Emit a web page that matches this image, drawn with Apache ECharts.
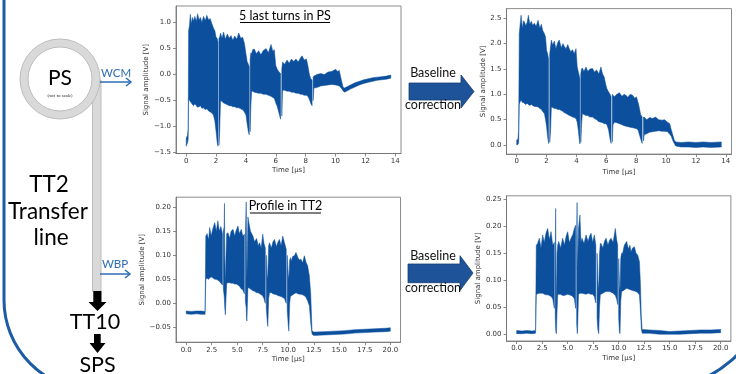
<!DOCTYPE html>
<html><head><meta charset="utf-8">
<script src="https://cdn.jsdelivr.net/npm/echarts@6/dist/echarts.min.js"></script>
<style>html,body{margin:0;padding:0;background:#fff}#c{width:736px;height:374px}</style>
</head><body><div id="c"></div><script>
// ---- data: [time µs, upper envelope V, lower envelope V]; null = gap between turns ----
const psRows = [
[0,-1.22,-1.38],[0.08,-1.18,-1.32],[0.13,-1.05,-1.25],[0.16,0.84,-0.45],[0.22,0.95,-0.50],[0.27,1.16,-0.52],
[0.35,0.98,-0.55],[0.42,1.10,-0.58],[0.49,1.03,-0.60],[0.58,1.12,-0.56],[0.68,1.02,-0.60],[0.76,1.17,-0.63],
[0.86,1.05,-0.62],[0.95,1.10,-0.60],[1.05,1.00,-0.65],[1.15,1.12,-0.64],[1.28,1.04,-0.68],[1.38,1.14,-0.66],
[1.5,1.05,-0.70],[1.6,1.08,-0.72],[1.72,0.98,-0.74],[1.82,0.90,-0.78],[1.92,0.84,-0.90],[2.0,0.72,-1.10],
[2.07,0.70,-1.30],[2.13,0.62,-1.38],null,
[2.19,0.70,-1.36],[2.24,0.72,-1.10],[2.3,0.80,-0.50],[2.4,0.70,-0.52],[2.5,0.82,-0.55],[2.62,0.68,-0.56],
[2.75,0.78,-0.58],[2.88,0.70,-0.60],[3.0,0.75,-0.60],[3.12,0.66,-0.62],[3.25,0.74,-0.62],[3.38,0.68,-0.64],
[3.52,0.80,-0.64],[3.65,0.70,-0.66],[3.78,0.72,-0.68],[3.9,0.60,-0.72],[4.0,0.40,-0.78],[4.08,0.25,-0.95],
[4.16,0.20,-1.10],[4.22,0.15,-1.16],null,
[4.28,0.30,-1.10],[4.33,0.42,-0.60],[4.38,0.40,-0.32],[4.45,0.48,-0.32],[4.56,0.49,-0.34],[4.7,0.40,-0.35],
[4.85,0.46,-0.36],[5.0,0.38,-0.36],[5.15,0.46,-0.38],[5.35,0.50,-0.38],[5.5,0.42,-0.40],[5.68,0.58,-0.42],
[5.8,0.45,-0.44],[5.9,0.48,-0.46],[6.0,0.17,-0.55],[6.1,0.10,-0.62],[6.22,0.05,-0.75],[6.32,0.02,-0.86],null,
[6.4,0.10,-0.80],[6.45,0.24,-0.30],[6.6,0.20,-0.30],[6.75,0.28,-0.32],[6.9,0.22,-0.32],[7.05,0.30,-0.34],
[7.2,0.25,-0.34],[7.35,0.30,-0.36],[7.5,0.24,-0.36],[7.65,0.32,-0.38],[7.76,0.36,-0.38],[7.9,0.28,-0.40],
[8.05,0.30,-0.40],[8.15,0.17,-0.42],[8.25,0.00,-0.48],[8.35,-0.09,-0.56],[8.43,-0.10,-0.60],null,
[8.5,-0.05,-0.50],[8.55,-0.03,-0.26],[8.75,0.00,-0.25],[9.0,0.02,-0.22],[9.25,0.00,-0.21],[9.5,0.05,-0.20],
[9.75,0.06,-0.19],[10.0,0.10,-0.20],[10.15,0.06,-0.21],[10.25,0.08,-0.22],[10.38,-0.09,-0.26],[10.5,-0.24,-0.31],
[10.6,-0.26,-0.34],[10.8,-0.23,-0.31],[11.0,-0.20,-0.28],[11.3,-0.16,-0.24],[11.6,-0.13,-0.20],[11.9,-0.10,-0.17],
[12.2,-0.08,-0.15],[12.5,-0.06,-0.13],[12.8,-0.05,-0.11],[13.1,-0.04,-0.10],[13.4,-0.03,-0.09],[13.7,-0.01,-0.07]
];
const psCorrRows = [
[0,0.10,0.00],[0.08,0.12,0.01],[0.13,0.30,0.05],[0.17,2.20,0.80],[0.22,2.35,0.85],[0.29,2.56,0.88],[0.38,2.30,0.84],
[0.45,2.45,0.84],[0.51,2.43,0.82],[0.6,2.35,0.80],[0.7,2.42,0.82],[0.78,2.56,0.80],[0.88,2.38,0.78],[0.98,2.44,0.80],
[1.07,2.36,0.78],[1.18,2.40,0.76],[1.3,2.34,0.76],[1.43,2.46,0.75],[1.55,2.30,0.72],[1.65,2.38,0.70],[1.74,2.26,0.66],
[1.85,2.20,0.62],[1.93,2.13,0.50],[2.0,1.87,0.36],[2.07,1.80,0.15],[2.13,1.70,0.03],null,
[2.21,1.80,0.05],[2.27,1.95,0.30],[2.32,2.07,0.75],[2.41,1.97,0.74],[2.52,2.05,0.72],[2.62,1.90,0.72],[2.75,2.02,0.70],
[2.85,2.07,0.70],[2.98,1.92,0.68],[3.1,2.00,0.66],[3.17,1.95,0.64],[3.3,1.90,0.62],[3.42,1.98,0.60],[3.52,1.90,0.58],
[3.62,1.84,0.57],[3.74,1.88,0.55],[3.85,1.80,0.54],[3.97,1.90,0.52],[4.05,1.55,0.45],[4.12,1.45,0.30],[4.2,1.35,0.08],
[4.23,1.30,0.02],null,
[4.29,1.40,0.05],[4.34,1.50,0.40],[4.4,1.52,0.62],[4.5,1.45,0.60],[4.64,1.54,0.58],[4.76,1.45,0.58],[4.9,1.50,0.55],
[5.08,1.51,0.55],[5.2,1.44,0.52],[5.35,1.48,0.50],[5.5,1.40,0.46],[5.64,1.54,0.45],[5.75,1.40,0.44],[5.86,1.34,0.42],
[5.96,1.20,0.42],[6.04,1.11,0.40],[6.15,1.05,0.30],[6.25,1.00,0.12],[6.32,0.95,0.03],null,
[6.4,1.00,0.06],[6.45,0.98,0.40],[6.55,0.95,0.45],[6.7,1.00,0.44],[6.88,1.03,0.42],[7.05,0.96,0.40],[7.2,1.00,0.38],
[7.31,0.98,0.37],[7.45,0.94,0.36],[7.6,1.00,0.35],[7.76,0.98,0.34],[7.9,0.92,0.33],[8.02,0.95,0.32],[8.12,0.85,0.30],
[8.2,0.75,0.22],[8.3,0.60,0.12],[8.4,0.55,0.03],null,
[8.49,0.55,0.08],[8.54,0.55,0.20],[8.7,0.50,0.22],[8.9,0.54,0.25],[9.1,0.52,0.26],[9.3,0.55,0.27],[9.5,0.50,0.28],
[9.74,0.49,0.27],[9.9,0.50,0.27],[10.1,0.45,0.26],[10.25,0.42,0.21],[10.35,0.30,0.17],[10.45,0.20,0.09],[10.55,0.10,0.03],
[10.65,0.06,-0.02],[11.0,0.05,-0.04],[11.5,0.06,-0.04],[12.0,0.05,-0.05],[12.5,0.06,-0.04],[13.0,0.05,-0.05],[13.7,0.06,-0.04]
];
const tt2Rows = [
[0,-0.016,-0.022],[0.5,-0.017,-0.023],[1.0,-0.016,-0.022],[1.5,-0.016,-0.023],[1.85,-0.017,-0.023],
[1.92,0.140,0.050],[2.05,0.145,0.052],[2.2,0.132,0.050],[2.3,0.158,0.053],[2.45,0.140,0.055],[2.6,0.155,0.053],
[2.8,0.168,0.050],[2.95,0.150,0.050],[3.1,0.172,0.048],[3.25,0.150,0.046],[3.4,0.160,0.042],[3.55,0.145,0.038],null,
[3.64,0.150,0.030],[3.72,0.160,0.015],[3.75,0.208,0.005],[3.78,0.100,-0.010],[3.84,0.040,-0.024],[3.9,0.100,0.010],
[3.97,0.145,0.042],[4.1,0.147,0.043],[4.25,0.135,0.043],[4.4,0.150,0.042],[4.59,0.154,0.042],[4.75,0.140,0.040],
[4.9,0.152,0.040],[5.07,0.161,0.038],[5.2,0.145,0.036],[5.4,0.154,0.030],[5.55,0.140,0.028],[5.7,0.144,0.020],null,
[5.8,0.140,0.005],[5.88,0.211,-0.010],[5.91,0.120,-0.030],[5.95,0.050,-0.037],[6.0,0.120,0.000],[6.05,0.180,0.033],
[6.15,0.167,0.032],[6.3,0.150,0.030],[6.54,0.140,0.026],[6.7,0.128,0.025],[6.9,0.135,0.022],[7.05,0.120,0.022],
[7.19,0.126,0.020],[7.35,0.115,0.018],[7.5,0.144,0.015],[7.62,0.125,0.010],[7.75,0.115,0.000],null,
[7.85,0.100,-0.010],[7.95,0.050,-0.040],[8.0,0.060,-0.048],[8.08,0.120,0.010],[8.16,0.126,0.022],[8.35,0.115,0.022],
[8.5,0.128,0.020],[8.65,0.133,0.019],[8.85,0.118,0.018],[9.0,0.128,0.016],[9.14,0.133,0.015],[9.3,0.120,0.014],
[9.46,0.140,0.012],[9.63,0.126,0.010],[9.8,0.113,0.000],null,
[9.9,0.100,-0.015],[10.0,0.060,-0.045],[10.06,0.050,-0.058],[10.14,0.090,0.000],[10.22,0.095,0.015],[10.28,0.088,0.015],
[10.45,0.098,0.018],[10.6,0.099,0.020],[10.76,0.106,0.022],[10.95,0.095,0.020],[11.1,0.090,0.019],[11.25,0.092,0.019],
[11.4,0.084,0.018],[11.58,0.099,0.016],[11.75,0.085,0.012],[11.9,0.078,0.005],[12.07,0.057,-0.005],[12.2,0.020,-0.040],
[12.33,-0.057,-0.064],[12.5,-0.060,-0.067],[13.5,-0.059,-0.066],[14.5,-0.058,-0.065],[15.5,-0.057,-0.064],
[16.5,-0.055,-0.062],[17.5,-0.054,-0.061],[18.5,-0.053,-0.060],[19.5,-0.052,-0.059],[20.0,-0.051,-0.058]
];
const tt2CorrRows = [
[0,0.007,0.001],[0.5,0.006,0.001],[1.0,0.007,0.002],[1.5,0.006,0.001],[1.85,0.007,0.002],
[1.92,0.165,0.073],[2.05,0.168,0.075],[2.22,0.178,0.076],[2.38,0.160,0.076],[2.55,0.184,0.076],[2.7,0.170,0.074],
[2.88,0.188,0.073],[3.04,0.196,0.073],[3.2,0.175,0.072],[3.37,0.190,0.070],[3.53,0.165,0.066],[3.69,0.170,0.048],null,
[3.78,0.150,0.030],[3.82,0.233,0.010],[3.85,0.120,0.003],[3.89,0.050,0.001],[3.95,0.150,0.040],[4.02,0.165,0.073],
[4.12,0.172,0.074],[4.3,0.160,0.074],[4.51,0.178,0.072],[4.68,0.165,0.072],[4.85,0.182,0.073],[5.0,0.190,0.074],
[5.16,0.170,0.073],[5.33,0.178,0.072],[5.5,0.185,0.070],[5.65,0.196,0.066],[5.78,0.202,0.048],null,
[5.88,0.180,0.020],[5.92,0.244,0.005],[5.95,0.120,0.001],[6.0,0.150,0.030],[6.06,0.196,0.074],[6.2,0.221,0.076],
[6.3,0.170,0.076],[6.4,0.178,0.076],[6.6,0.168,0.075],[6.8,0.184,0.074],[7.0,0.172,0.076],[7.15,0.182,0.075],
[7.29,0.187,0.074],[7.45,0.170,0.074],[7.61,0.184,0.070],[7.76,0.165,0.058],null,
[7.88,0.150,0.030],[7.96,0.100,0.008],[8.04,0.080,0.001],[8.12,0.150,0.050],[8.2,0.168,0.074],[8.27,0.168,0.074],
[8.45,0.160,0.076],[8.6,0.172,0.078],[8.76,0.178,0.079],[8.95,0.165,0.079],[9.1,0.174,0.079],[9.25,0.178,0.078],
[9.45,0.170,0.076],[9.67,0.196,0.072],[9.8,0.175,0.065],[9.9,0.165,0.055],null,
[10.0,0.140,0.030],[10.07,0.090,0.005],[10.13,0.080,0.001],[10.2,0.140,0.060],[10.28,0.150,0.079],[10.39,0.150,0.080],
[10.55,0.165,0.082],[10.78,0.172,0.085],[10.95,0.158,0.084],[11.1,0.165,0.083],[11.2,0.153,0.082],[11.37,0.160,0.081],
[11.54,0.162,0.080],[11.7,0.150,0.079],[11.86,0.147,0.077],[12.03,0.135,0.073],[12.12,0.098,0.048],[12.22,0.030,0.010],
[12.3,0.009,0.002],[13.0,0.008,0.002],[14.0,0.007,0.000],[15.0,0.005,0.000],[16.0,0.006,0.000],[17.0,0.007,0.001],
[18.0,0.008,0.002],[19.0,0.008,0.002],[20.0,0.009,0.003]
];
// tick values
const xTicksPS = [0,2,4,6,8,10,12,14];
const yTicksPS = [-1.5,-1.0,-0.5,0.0,0.5,1.0];
const yTicksPSCorr = [0.0,0.5,1.0,1.5,2.0,2.5];
const xTicksTT2 = [0,2.5,5,7.5,10,12.5,15,17.5,20];
const yTicksTT2 = [-0.05,0.00,0.05,0.10,0.15,0.20];
const yTicksTT2Corr = [0.00,0.05,0.10,0.15,0.20,0.25];
// texts
const titlePS = '5 last turns in PS';
const titleTT2 = 'Profile in TT2';
const xName = 'Time [μs]';
const yName = 'Signal amplitude [V]';

const SIG = '#0b4f9d';
const FRAME = '#707070';
const TXT = '#333';
const FF = 'DejaVu Sans';
const HF = 'Lato';

function segs(rows){ const out=[[]]; rows.forEach(r=>{ if(r===null) out.push([]); else out[out.length-1].push(r); }); return out.filter(s=>s.length); }
function band(rows, idx){
  const S = segs(rows);
  return {type:'custom', coordinateSystem:'cartesian2d', xAxisIndex:idx, yAxisIndex:idx, clip:true, silent:true, animation:false,
    data: S.map((s,i)=>[s[0][0], s[0][1], i]), encode:{x:0, y:1},
    renderItem:(params, api)=>{
      const s = S[api.value(2)];
      const up = s.map(r=>api.coord([r[0], r[1]]));
      const dn = s.map(r=>api.coord([r[0], r[2]])).reverse();
      return {type:'polygon', shape:{points: up.concat(dn)}, style:{fill:SIG, stroke:SIG, lineWidth:0.5}};
    }};
}
const minus = s => String(s).replace('-', '\u2212');
function xAx(idx, min, max, ticks, dec, gap){
  return {type:'value', gridIndex:idx, min, max, splitLine:{show:false},
    axisLine:{show:true, onZero:false, lineStyle:{color:FRAME, width:0.8}},
    axisTick:{show:true, length:3, customValues:ticks, lineStyle:{color:FRAME, width:0.8}},
    axisLabel:{customValues:ticks, fontSize:7, color:TXT, fontFamily:FF, margin:4, formatter:v=>minus((+v).toFixed(dec))},
    name:xName, nameLocation:'middle', nameGap:gap, nameTextStyle:{fontSize:7, color:TXT, fontFamily:FF}};
}
function yAx(idx, min, max, ticks, dec, gap){
  return {type:'value', gridIndex:idx, min, max, splitLine:{show:false},
    axisLine:{show:true, onZero:false, lineStyle:{color:FRAME, width:0.8}},
    axisTick:{show:true, length:3, customValues:ticks, lineStyle:{color:FRAME, width:0.8}},
    axisLabel:{customValues:ticks, fontSize:7, color:TXT, fontFamily:FF, margin:5, formatter:v=>minus((+v).toFixed(dec))},
    name:yName, nameLocation:'middle', nameRotate:90, nameGap:gap, nameTextStyle:{fontSize:7, color:TXT, fontFamily:FF}};
}
const gridBase = {show:true, borderColor:FRAME, borderWidth:0.8, backgroundColor:'rgba(0,0,0,0)', containLabel:false};
function txt(x, y, text, size, color, extra){
  return Object.assign({type:'text', x, y, z:100, silent:true, style:{text, fontSize:size, fontFamily:HF, fill:color||'#000', align:'center', verticalAlign:'middle'}}, extra||{});
}
function blockArrow(x0, yT, yB, xh, hT, hB, xt){
  const ym = (hT+hB)/2;
  return {type:'polygon', z:50, silent:true, shape:{points:[[x0,yT],[xh,yT],[xh,hT],[xt,ym],[xh,hB],[xh,yB],[x0,yB]]},
    style:{fill:'#1f5399', stroke:'#173f73', lineWidth:0.8}};
}
function blackArrow(xl, xr, y0, yb, hl, hr, tip){
  const xc = (hl+hr)/2;
  return {type:'polygon', z:50, silent:true, shape:{points:[[xl,y0],[xr,y0],[xr,yb],[hr,yb],[xc,tip],[hl,yb],[xl,yb]]}, style:{fill:'#000'}};
}
function thinArrow(x0, x1, y){
  return [
    {type:'line', z:50, silent:true, shape:{x1:x0, y1:y, x2:x1, y2:y}, style:{stroke:'#2e6db5', lineWidth:1.5}},
    {type:'polyline', z:50, silent:true, shape:{points:[[x1-5,y-4],[x1,y],[x1-5,y+4]]}, style:{stroke:'#2e6db5', lineWidth:1.5, fill:null}}
  ];
}
const elements = [
  {type:'line', silent:true, shape:{x1:4, y1:-5, x2:4, y2:300}, style:{stroke:'#1d5ba5', lineWidth:3}},
  {type:'arc', silent:true, shape:{cx:94, cy:300, r:90, startAngle:Math.PI/2, endAngle:Math.PI, clockwise:true}, style:{stroke:'#1d5ba5', lineWidth:3, fill:null}},
  {type:'arc', silent:true, shape:{cx:660, cy:280, r:107.5, startAngle:0.40, endAngle:1.32, clockwise:true}, style:{stroke:'#1d5ba5', lineWidth:3, fill:null}},
  {type:'rect', z:10, silent:true, shape:{x:92.5, y:80, width:8.5, height:211.5}, style:{fill:'#d9d9d9', stroke:'#bdbdbd', lineWidth:1}},
  {type:'ring', z:11, silent:true, shape:{cx:60, cy:79, r:40, r0:32}, style:{fill:'#d9d9d9', stroke:'#bdbdbd', lineWidth:1}},
  txt(60, 78, 'PS', 21, '#000'),
  txt(60, 96, '(not to scale)', 4.5, '#333'),
  txt(116, 73, 'WCM', 11.5, '#2e6db5'),
  ...thinArrow(100, 131, 82),
  txt(115, 264, 'WBP', 11.5, '#2e6db5'),
  ...thinArrow(100, 130, 274),
  txt(49, 185, 'TT2', 22.5, '#000'),
  txt(48, 212, 'Transfer', 22.5, '#000'),
  txt(51, 238, 'line', 22.5, '#000'),
  blackArrow(93.3, 101.5, 291, 302, 88.5, 106.5, 311),
  txt(95, 322, 'TT10', 21.5, '#000'),
  blackArrow(94, 100.7, 334, 343, 89.5, 105.5, 353),
  txt(97.5, 365, 'SPS', 21.5, '#000'),
  blockArrow(409, 83, 100, 461, 75, 108, 474),
  txt(433, 73, 'Baseline', 12.5, '#111'),
  txt(433, 105, 'correction', 12.5, '#111'),
  blockArrow(408, 264, 282.7, 460, 255.7, 290.5, 473),
  txt(433, 256, 'Baseline', 12.5, '#111'),
  txt(433, 288, 'correction', 12.5, '#111'),
  txt(285, 15.5, titlePS, 12.5, '#000'),
  {type:'line', z:100, silent:true, shape:{x1:240, y1:22.5, x2:330, y2:22.5}, style:{stroke:'#000', lineWidth:1}},
  txt(285.5, 206, titleTT2, 12.5, '#000'),
  {type:'line', z:100, silent:true, shape:{x1:250, y1:213, x2:321, y2:213}, style:{stroke:'#000', lineWidth:1}}
];

const option = {
  animation:false,
  backgroundColor:'#fff',
  grid:[
    Object.assign({left:176, top:6, width:225, height:147.5}, gridBase),
    Object.assign({left:506.5, top:8.6, width:225, height:145.5}, gridBase),
    Object.assign({left:176, top:197.2, width:224.5, height:145}, gridBase),
    Object.assign({left:506.5, top:195.8, width:224.4, height:145.2}, gridBase)
  ],
  xAxis:[
    xAx(0, -0.685, 14.385, xTicksPS, 0, 13),
    xAx(1, -0.685, 14.385, xTicksPS, 0, 14.4),
    xAx(2, -1, 21, xTicksTT2, 1, 13.3),
    xAx(3, -1, 21, xTicksTT2, 1, 13.5)
  ],
  yAxis:[
    yAx(0, -1.52, 1.32, yTicksPS, 1, 22.5),
    yAx(1, -0.18, 2.69, yTicksPSCorr, 1, 18),
    yAx(2, -0.081, 0.221, yTicksTT2, 2, 27.5),
    yAx(3, -0.0125, 0.2565, yTicksTT2Corr, 2, 22.3)
  ],
  series:[band(psRows,0), band(psCorrRows,1), band(tt2Rows,2), band(tt2CorrRows,3)],
  graphic:{elements}
};
const chart = echarts.init(document.getElementById('c'), null, {renderer:'canvas'});
chart.setOption(option);
</script></body></html>
